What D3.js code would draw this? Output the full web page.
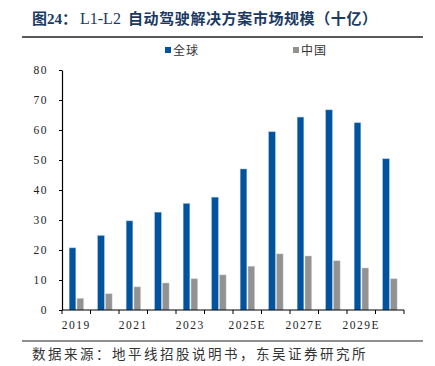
<!DOCTYPE html>
<html>
<head>
<meta charset="utf-8">
<script src="https://cdn.jsdelivr.net/npm/d3@7"></script>
<style>
  body { margin: 0; background: #fff; }
  svg text { font-family: "Liberation Serif", "Times New Roman", serif; }
</style>
</head>
<body>
<div id="chart"></div>
<script>
var years = ["2019", "2020", "2021", "2022", "2023", "2024", "2025E", "2026E", "2027E", "2028E", "2029E", "2030E"];
var globalValues = [20.7, 24.8, 29.7, 32.6, 35.5, 37.6, 47.0, 59.4, 64.3, 66.7, 62.4, 50.4];
var chinaValues = [3.9, 5.4, 7.7, 9.0, 10.4, 11.7, 14.6, 18.7, 18.0, 16.4, 14.0, 10.4];
var seriesNames = ["全球", "中国"];
var yTicks = [0, 10, 20, 30, 40, 50, 60, 70, 80];

var width = 435, height = 366;
var colors = ["#00539c", "#929292"];
var cjk = "'Noto Sans CJK SC', sans-serif";

var svg = d3.select("#chart").append("svg")
    .attr("width", width)
    .attr("height", height);

// title, in three pieces so the spacing follows the original
var title = svg.append("text")
    .attr("y", 24)
    .attr("fill", "#1b3a63")
    .style("font-family", "'Liberation Serif', " + cjk)
    .style("font-size", "15px")
    .style("font-weight", "bold");
title.append("tspan").attr("x", 32).text("图24：");
title.append("tspan").attr("x", 80).style("font-weight", "normal").style("font-size", "16px").text("L1-L2");
title.append("tspan").attr("x", 128).style("letter-spacing", "0.6px").text("自动驾驶解决方案市场规模（十亿）");

svg.append("line")
    .attr("x1", 22).attr("x2", 423)
    .attr("y1", 37).attr("y2", 37)
    .attr("stroke", "#222").attr("stroke-width", 1.5);

svg.append("line")
    .attr("x1", 22).attr("x2", 423)
    .attr("y1", 341).attr("y2", 341)
    .attr("stroke", "#222").attr("stroke-width", 1.2);

svg.append("text")
    .attr("x", 32)
    .attr("y", 359)
    .attr("fill", "#333")
    .style("font-family", cjk)
    .style("font-size", "13.5px")
    .style("letter-spacing", "2.5px")
    .text("数据来源：地平线招股说明书，东吴证券研究所");

// legend
var legendX = [165, 293];
seriesNames.forEach(function(name, i) {
    svg.append("rect")
        .attr("x", legendX[i]).attr("y", 47)
        .attr("width", 6).attr("height", 6)
        .attr("fill", colors[i]);
    svg.append("text")
        .attr("x", legendX[i] + 8).attr("y", 55)
        .attr("fill", "#333")
        .style("font-family", cjk)
        .style("font-size", "12px")
        .style("letter-spacing", "1px")
        .text(name);
});

// chart
var margin = { left: 62, top: 70, right: 31, bottom: 56 };
var chartW = width - margin.left - margin.right;
var chartH = height - margin.top - margin.bottom;

var g = svg.append("g")
    .attr("transform", `translate(${margin.left}, ${margin.top})`);

var xScale = d3.scaleBand()
    .domain(years)
    .range([0, chartW]);

var yScale = d3.scaleLinear()
    .domain([0, 80])
    .range([chartH, 0]);

var barW = 6.6;
var data = years.map((y, i) => ({ year: y, vals: [globalValues[i], chinaValues[i]] }));
var offsets = [7.2, 15];

seriesNames.forEach(function(name, s) {
    g.selectAll(".bar" + s)
        .data(data)
        .enter()
        .append("rect")
        .attr("x", d => xScale(d.year) + offsets[s])
        .attr("y", d => yScale(d.vals[s]))
        .attr("width", barW)
        .attr("height", d => chartH - yScale(d.vals[s]))
        .attr("fill", colors[s])
        .attr("stroke", s === 0 ? "#8fb4dc" : "#d0d0d0")
        .attr("stroke-width", 0.5);
});

// y axis
var yAxis = g.append("g")
    .call(d3.axisLeft(yScale).tickValues(yTicks).tickSize(3).tickPadding(11).tickSizeOuter(0));
yAxis.select(".domain").attr("stroke", "#000").attr("stroke-width", 1.2);
yAxis.selectAll("text")
    .style("font-size", "11.5px")
    .style("letter-spacing", "1.5px")
    .attr("fill", "#222");

// x axis: ticks at category boundaries, labels every other year
var boundaries = d3.range(years.length + 1).map(i => i * xScale.step());
var xAxis = g.append("g")
    .attr("transform", `translate(0, ${chartH})`);
xAxis.append("line")
    .attr("x1", 0).attr("x2", chartW)
    .attr("stroke", "#000").attr("stroke-width", 1.2);
xAxis.selectAll(".tick")
    .data(boundaries)
    .enter()
    .append("line")
    .attr("x1", d => d).attr("x2", d => d)
    .attr("y1", 0).attr("y2", 4)
    .attr("stroke", "#000");
xAxis.selectAll(".lbl")
    .data(years.filter((y, i) => i % 2 === 0))
    .enter()
    .append("text")
    .attr("x", d => xScale(d) + xScale.bandwidth() / 2)
    .attr("y", 19)
    .attr("text-anchor", "middle")
    .attr("fill", "#222")
    .style("font-size", "11.5px")
    .style("letter-spacing", "1.5px")
    .text(d => d);
</script>
</body>
</html>
